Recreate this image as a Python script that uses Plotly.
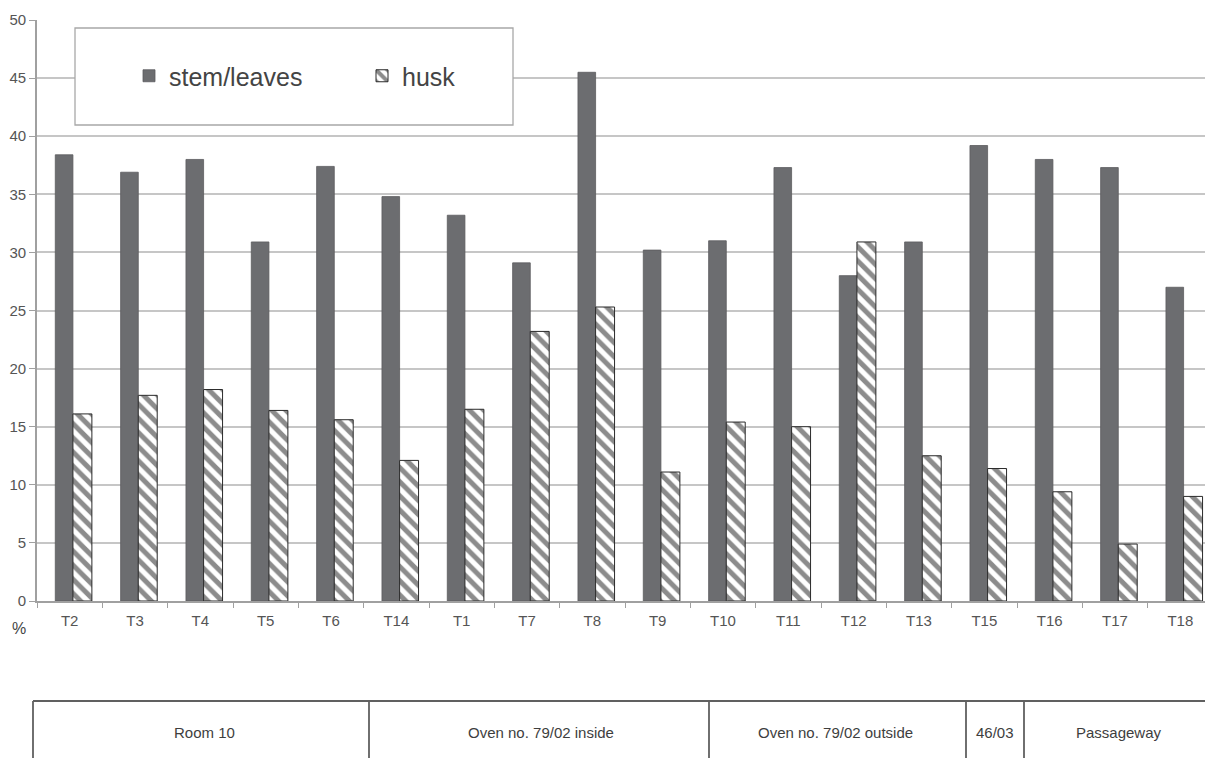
import plotly.graph_objects as go

categories = ["T2", "T3", "T4", "T5", "T6", "T14", "T1", "T7", "T8", "T9",
              "T10", "T11", "T12", "T13", "T15", "T16", "T17", "T18"]
stem_leaves = [38.4, 36.9, 38.0, 30.9, 37.4, 34.8, 33.2, 29.1, 45.5, 30.2,
               31.0, 37.3, 28.0, 30.9, 39.2, 38.0, 37.3, 27.0]
husk = [16.1, 17.7, 18.2, 16.4, 15.6, 12.1, 16.5, 23.2, 25.3, 11.1,
        15.4, 15.0, 30.9, 12.5, 11.4, 9.4, 4.9, 9.0]
y_ticks = [0, 5, 10, 15, 20, 25, 30, 35, 40, 45, 50]
group_labels = ["Room 10", "Oven no. 79/02 inside", "Oven no. 79/02 outside", "46/03", "Passageway"]

# page has an 8px body margin: work in page pixels and convert
OFF = 8
W, H = 1213 - OFF, 758 - OFF
L, R, T, B = 37 - OFF, 0, 20 - OFF, 758 - 601
pw, ph = W - L - R, H - T - B

def px_x(p):
    return (p - OFF - L) / pw

def px_y(p):
    return (H - B - (p - OFF)) / ph

FONT = "Liberation Sans, Arial, sans-serif"

fig = go.Figure()
fig.add_trace(go.Bar(
    x=categories, y=stem_leaves, name="stem/leaves",
    offset=-0.22, width=0.27,
    marker=dict(color="#6c6d70", line=dict(color="#5c5c5e", width=0.8)),
))
fig.add_trace(go.Bar(
    x=categories, y=husk, name="husk",
    offset=0.05, width=0.29,
    marker=dict(color="white", line=dict(color="#2a2a2a", width=1),
                pattern=dict(shape="\\", fgcolor="#1a1a1a", bgcolor="white",
                             size=10, solidity=0.5)),
))

shapes = []
# legend frame
shapes.append(dict(type="rect", xref="paper", yref="paper",
                   x0=px_x(75), x1=px_x(513), y0=px_y(125), y1=px_y(28),
                   line=dict(color="#a8a8a8", width=1.3), fillcolor="white", layer="above"))
# bottom table
line_c = "#606060"
shapes.append(dict(type="line", xref="paper", yref="paper",
                   x0=px_x(33), x1=px_x(1215), y0=px_y(701), y1=px_y(701),
                   line=dict(color=line_c, width=1.8)))
for xp in [33, 369, 709, 966, 1024]:
    shapes.append(dict(type="line", xref="paper", yref="paper",
                       x0=px_x(xp), x1=px_x(xp), y0=px_y(701), y1=px_y(770),
                       line=dict(color=line_c, width=1.8)))

annotations = []
centers = [204, 541, 836, 995, 1119]
for lab, cx in zip(group_labels, centers):
    annotations.append(dict(text=lab, xref="paper", yref="paper",
                            x=px_x(cx), y=px_y(732), showarrow=False,
                            xanchor="center", yanchor="middle",
                            font=dict(family=FONT, size=15, color="#3e3e3e")))
annotations.append(dict(text="%", xref="paper", yref="paper",
                        x=px_x(19), y=px_y(628), showarrow=False,
                        xanchor="center", yanchor="middle",
                        font=dict(family=FONT, size=16, color="#444444")))

fig.update_layout(
    width=W, height=H,
    margin=dict(l=L, r=R, t=T, b=B, pad=0),
    paper_bgcolor="white", plot_bgcolor="white",
    barmode="overlay",
    font=dict(family=FONT, color="#555555"),
    showlegend=True,
    legend=dict(orientation="h", x=px_x(129), y=px_y(76), xanchor="left", yanchor="middle",
                bgcolor="rgba(0,0,0,0)", borderwidth=0,
                font=dict(family=FONT, size=25, color="#444444"),
                itemwidth=30, entrywidth=188, entrywidthmode="pixels"),
    xaxis=dict(showline=True, linecolor="#a0a0a0", linewidth=1.6,
               ticks="outside", tickson="boundaries", ticklen=5, tickcolor="#a0a0a0",
               ticklabelstandoff=5,
               tickfont=dict(family=FONT, size=15, color="#555555"),
               showgrid=False, fixedrange=True),
    yaxis=dict(range=[0, 50], tickvals=y_ticks, showline=True, linecolor="#a0a0a0", linewidth=1.6,
               ticks="outside", ticklen=6, tickcolor="#a0a0a0",
               showgrid=True, gridcolor="#c6c6c6", gridwidth=1.6,
               zeroline=False,
               tickfont=dict(family=FONT, size=15, color="#555555")),
    shapes=shapes,
    annotations=annotations,
)

fig.write_html("out.html")
